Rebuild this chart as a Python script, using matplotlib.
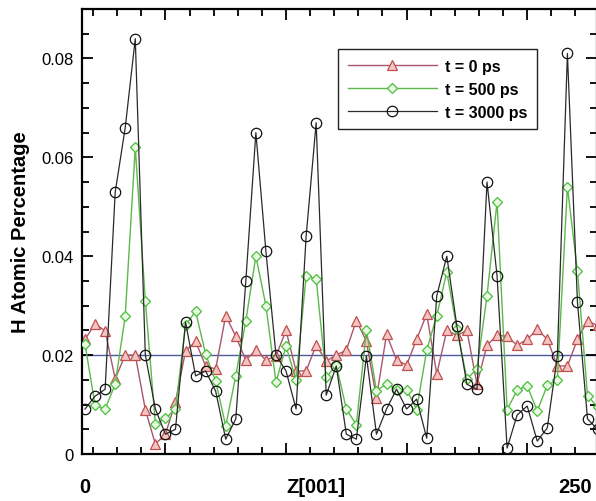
import numpy as np
import matplotlib
matplotlib.use("Agg")
import matplotlib.pyplot as plt
from matplotlib.ticker import FixedLocator, MultipleLocator, NullFormatter
import matplotlib.transforms as mtransforms

plt.rcParams['font.family'] = ['Liberation Sans', 'DejaVu Sans']

# Z positions of the layers (every 5 along Z[001])
z = list(range(0, 256, 5))

h_0ps = [0.0232, 0.0263, 0.0249, 0.0152, 0.0200, 0.0200, 0.0090, 0.0020, 0.0040, 0.0105,
         0.0208, 0.0228, 0.0178, 0.0172, 0.0280, 0.0238, 0.0190, 0.0210, 0.0190, 0.0198,
         0.0250, 0.0168, 0.0168, 0.0220, 0.0188, 0.0200, 0.0210, 0.0270, 0.0228, 0.0113,
         0.0242, 0.0190, 0.0180, 0.0232, 0.0283, 0.0162, 0.0250, 0.0240, 0.0250, 0.0141,
         0.0220, 0.0240, 0.0238, 0.0220, 0.0232, 0.0252, 0.0232, 0.0178, 0.0178, 0.0232,
         0.0269, 0.0260]

h_500ps = [0.0222, 0.0099, 0.0091, 0.0141, 0.0279, 0.0620, 0.0310, 0.0061, 0.0072, 0.0091,
           0.0260, 0.0289, 0.0202, 0.0147, 0.0057, 0.0158, 0.0269, 0.0400, 0.0300, 0.0145,
           0.0218, 0.0150, 0.0360, 0.0354, 0.0155, 0.0180, 0.0091, 0.0059, 0.0251, 0.0128,
           0.0142, 0.0130, 0.0130, 0.0090, 0.0210, 0.0280, 0.0368, 0.0253, 0.0152, 0.0172,
           0.0320, 0.0510, 0.0090, 0.0129, 0.0138, 0.0087, 0.0139, 0.0150, 0.0540, 0.0370,
           0.0118, 0.0095]

h_3000ps = [0.0091, 0.0117, 0.0131, 0.0529, 0.0660, 0.0840, 0.0200, 0.0091, 0.0040, 0.0050,
            0.0267, 0.0158, 0.0168, 0.0127, 0.0030, 0.0071, 0.0350, 0.0650, 0.0410, 0.0200,
            0.0168, 0.0091, 0.0440, 0.0670, 0.0119, 0.0178, 0.0040, 0.0030, 0.0198, 0.0040,
            0.0091, 0.0131, 0.0091, 0.0111, 0.0032, 0.0320, 0.0400, 0.0259, 0.0141, 0.0131,
            0.0550, 0.0360, 0.0012, 0.0079, 0.0097, 0.0026, 0.0053, 0.0198, 0.0810, 0.0307,
            0.0071, 0.0050]

ref_level = 0.02

fig = plt.figure(figsize=(5.96, 5.02), dpi=100)
ax = fig.add_axes([0.1376, 0.0936, 0.864, 0.8865])

ax.axhline(ref_level, color='#4a5a9c', lw=1.0, zorder=1.5)

ax.plot(z, h_0ps, color='#a8566e', lw=1.0, marker='^', ms=6.5,
        mec='#c0504d', mfc='#f3c4c4', mew=0.9, label='t = 0 ps', zorder=2)
ax.plot(z, h_500ps, color='#5cb84a', lw=1.0, marker='D', ms=5.2,
        mec='#48c038', mfc='#e9f7e4', mew=0.9, label='t = 500 ps', zorder=3)
ax.plot(z, h_3000ps, color='#2a2a2a', lw=0.9, marker='o', ms=7.5,
        mec='#111111', mfc='none', mew=0.9, label='t = 3000 ps', zorder=4)

ax.set_xlim(-1.5, 254.7)
ax.set_ylim(0, 0.09)

ax.xaxis.set_major_locator(FixedLocator([40, 100, 160, 220]))
ax.xaxis.set_minor_locator(FixedLocator([4, 16, 28, 52, 64, 76, 88, 112, 124, 136, 148,
                                         172, 184, 196, 208, 232, 244]))
ax.xaxis.set_major_formatter(NullFormatter())
ax.yaxis.set_major_locator(MultipleLocator(0.02))
ax.yaxis.set_minor_locator(MultipleLocator(0.005))
ax.set_yticks([0, 0.02, 0.04, 0.06, 0.08])
ax.set_yticklabels(['0', '0.02', '0.04', '0.06', '0.08'], fontsize=12)

ax.tick_params(which='both', direction='in', top=True, right=True, width=1.3)
ax.tick_params(which='major', length=8, pad=6)
ax.tick_params(which='minor', length=5)
for s in ax.spines.values():
    s.set_linewidth(1.6)

trans = mtransforms.blended_transform_factory(ax.transData, ax.transAxes)
ax.text(0, -0.072, '0', transform=trans, ha='center', va='center',
        fontsize=14.5, fontweight='bold')
ax.text(115, -0.072, 'Z[001]', transform=trans, ha='center', va='center',
        fontsize=14.5, fontweight='bold')
ax.text(244, -0.072, '250', transform=trans, ha='center', va='center',
        fontsize=14.5, fontweight='bold')
ax.set_ylabel('H Atomic Percentage', fontsize=14.5, fontweight='bold', labelpad=8)

leg = ax.legend(loc='upper left', bbox_to_anchor=(0.497, 0.91), borderaxespad=0,
                fancybox=False, framealpha=1, edgecolor='#222222',
                handlelength=5.6, labelspacing=0.5, handletextpad=0.5,
                borderpad=0.6, prop={'weight': 'bold', 'size': 11.5})
leg.get_frame().set_linewidth(1.0)

fig.savefig('out.png', dpi=100)
